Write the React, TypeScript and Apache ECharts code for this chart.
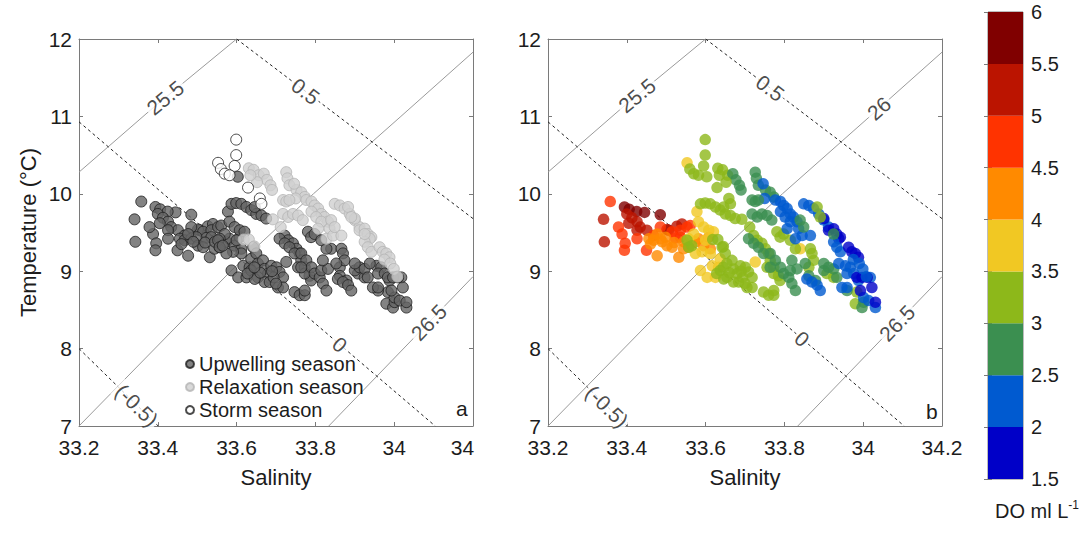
import React, { useEffect, useRef } from "react";
import * as echarts from "echarts";

// ---------- tick labels ----------
const xTickLabelsA = ["33.2", "33.4", "33.6", "33.8", "34", "34"];
const xTickLabelsB = ["33.2", "33.4", "33.6", "33.8", "34", "34.2"];
const yTickLabels = ["7", "8", "9", "10", "11", "12"];
const doTickLabels = ["1.5", "2", "2.5", "3", "3.5", "4", "4.5", "5", "5.5", "6"];
const doBandColors = ["#0000c8", "#005ad0", "#3b8f50", "#8db81a", "#f1c823", "#ff8a00", "#ff3300", "#bb1400", "#800000"];
const seasonNames = ["Upwelling season", "Relaxation season", "Storm season"];

// ---------- observations [salinity, temperature, DO] ----------
const upwellingPoints: number[][] = [
  [33.394, 9.83, 5.7], [33.406, 9.80, 5.8], [33.445, 9.76, 5.7], [33.485, 9.73, 5.6], [33.506, 9.53, 5.6], [33.425, 9.77, 5.7],
  [33.341, 9.67, 5.3], [33.343, 9.38, 5.2], [33.400, 9.74, 5.3], [33.413, 9.69, 5.2], [33.426, 9.64, 5.3], [33.405, 9.62, 5.2],
  [33.434, 9.57, 5.1], [33.451, 9.53, 5.2], [33.527, 9.58, 5.1], [33.540, 9.61, 5.2], [33.502, 9.54, 5.3], [33.426, 9.53, 5.2],
  [33.358, 9.90, 4.8], [33.388, 9.48, 4.9], [33.396, 9.36, 4.7], [33.394, 9.27, 4.8], [33.426, 9.42, 4.7], [33.450, 9.27, 4.8],
  [33.468, 9.46, 4.7], [33.485, 9.57, 4.8], [33.515, 9.51, 4.9], [33.536, 9.53, 4.7], [33.553, 9.57, 4.8], [33.561, 9.59, 4.7],
  [33.523, 9.43, 4.6], [33.536, 9.44, 4.7], [33.379, 9.57, 4.8],
  [33.456, 9.42, 4.3], [33.468, 9.40, 4.2], [33.485, 9.42, 4.3], [33.498, 9.44, 4.4], [33.502, 9.33, 4.2], [33.515, 9.31, 4.3],
  [33.532, 9.18, 4.2], [33.544, 9.29, 4.3], [33.557, 9.31, 4.1], [33.574, 9.38, 4.2], [33.582, 9.42, 4.3], [33.595, 9.33, 4.1],
  [33.612, 9.29, 4.2], [33.608, 9.44, 4.3], [33.477, 9.48, 4.4], [33.477, 9.20, 4.2], [33.490, 9.38, 4.3], [33.520, 9.37, 4.3],
  [33.545, 9.38, 4.2], [33.460, 9.35, 4.4],
  [33.578, 9.77, 3.8], [33.582, 9.64, 3.7], [33.595, 9.57, 3.8], [33.608, 9.53, 3.9], [33.620, 9.51, 3.7], [33.612, 9.23, 3.8],
  [33.591, 9.25, 3.7], [33.574, 9.23, 3.8], [33.587, 9.01, 3.6], [33.604, 8.92, 3.7], [33.625, 8.92, 3.6], [33.617, 9.07, 3.7],
  [33.633, 9.05, 3.6], [33.637, 9.16, 3.7], [33.726, 9.12, 3.6], [33.840, 9.29, 3.6], [33.570, 9.48, 3.8], [33.557, 9.42, 3.9],
  [33.600, 9.40, 3.8],
  [33.603, 10.22, 3.3], [33.587, 9.87, 3.3], [33.599, 9.88, 3.2], [33.612, 9.87, 3.3], [33.625, 9.83, 3.2], [33.637, 9.79, 3.3],
  [33.650, 9.74, 3.2], [33.663, 9.72, 3.1], [33.675, 9.68, 3.2], [33.646, 9.83, 3.3],
  [33.553, 9.40, 3.3], [33.642, 9.31, 3.2], [33.650, 9.23, 3.3], [33.654, 9.10, 3.2], [33.667, 9.14, 3.1], [33.671, 9.03, 3.2],
  [33.680, 8.97, 3.3], [33.688, 9.07, 3.2], [33.701, 9.05, 3.1], [33.709, 8.99, 3.2], [33.718, 8.92, 3.3], [33.654, 8.92, 3.2],
  [33.671, 8.86, 3.1], [33.684, 8.86, 3.2], [33.705, 8.79, 3.3], [33.718, 8.79, 3.2], [33.747, 8.73, 3.1], [33.760, 8.69, 3.2],
  [33.773, 8.69, 3.3], [33.773, 8.75, 3.2], [33.637, 9.01, 3.3], [33.646, 8.90, 3.2], [33.557, 9.31, 3.3], [33.565, 9.33, 3.2],
  [33.628, 8.97, 3.3], [33.660, 8.98, 3.2], [33.694, 8.92, 3.1], [33.700, 8.84, 3.2], [33.690, 9.00, 3.3], [33.645, 9.05, 3.2],
  [33.722, 9.46, 3.2], [33.731, 9.40, 3.1], [33.743, 9.36, 3.2], [33.752, 9.29, 3.3], [33.760, 9.23, 3.2], [33.764, 9.14, 3.1],
  [33.756, 9.05, 3.2], [33.773, 9.05, 3.3], [33.785, 8.94, 3.2], [33.789, 8.88, 3.1], [33.773, 8.97, 3.2], [33.781, 9.51, 3.3],
  [33.789, 9.44, 3.2], [33.798, 9.48, 3.1], [33.815, 9.40, 3.2], [33.828, 9.29, 3.3],
  [33.866, 9.29, 3.2], [33.870, 9.23, 3.1], [33.862, 9.05, 3.2], [33.874, 9.14, 3.3], [33.908, 8.97, 3.2], [33.925, 8.92, 3.1],
  [33.980, 8.58, 3.2], [33.984, 8.73, 3.3],
  [33.709, 9.42, 2.8], [33.722, 9.36, 2.7], [33.734, 9.31, 2.8], [33.747, 9.23, 2.7], [33.764, 9.23, 2.8], [33.777, 9.14, 2.7],
  [33.790, 9.05, 2.8], [33.798, 8.97, 2.7], [33.811, 8.92, 2.8], [33.819, 8.84, 2.7], [33.828, 8.75, 2.8], [33.815, 9.01, 2.7],
  [33.832, 9.03, 2.8], [33.764, 9.05, 2.7], [33.819, 9.14, 2.8], [33.853, 9.10, 2.7], [33.862, 8.94, 2.8], [33.879, 8.88, 2.7],
  [33.900, 9.01, 2.8], [33.912, 9.05, 2.7], [33.925, 9.03, 2.8], [33.933, 8.92, 2.7], [33.900, 9.10, 2.8], [33.959, 8.75, 2.7],
  [33.997, 8.53, 2.8], [34.001, 8.60, 2.7],
  [33.955, 9.07, 2.3], [33.967, 9.05, 2.2], [33.959, 8.97, 2.3], [33.976, 8.97, 2.2], [33.988, 8.88, 2.3], [33.938, 9.10, 2.2],
  [33.857, 8.90, 2.3], [33.870, 8.86, 2.2], [33.883, 8.82, 2.3], [33.891, 8.75, 2.2], [33.946, 8.79, 2.3], [33.959, 8.79, 2.2],
  [34.001, 8.66, 2.3], [34.014, 8.62, 2.2], [34.018, 8.92, 2.3], [34.031, 8.53, 2.2],
  [33.984, 8.92, 1.8], [33.997, 8.92, 1.7], [34.010, 8.92, 1.8], [33.993, 8.75, 1.9], [34.022, 8.79, 1.8], [34.031, 8.60, 1.7],
];

const relaxationPoints: number[][] = [
  [33.631, 10.33, 3.3], [33.643, 10.31, 3.2], [33.656, 10.24, 3.2], [33.669, 10.26, 2.8], [33.677, 10.18, 2.8], [33.686, 10.11, 2.7],
  [33.690, 10.05, 2.8], [33.652, 10.15, 3.2], [33.635, 10.24, 3.3],
  [33.692, 9.67, 3.2], [33.712, 9.57, 3.1],
  [33.618, 9.41, 3.3], [33.631, 9.41, 3.2], [33.645, 9.32, 3.3],
  [33.726, 10.28, 2.8], [33.729, 10.20, 2.7], [33.734, 10.11, 2.8], [33.752, 10.05, 2.7], [33.764, 10.02, 2.8], [33.773, 9.96, 2.7],
  [33.746, 10.13, 2.3], [33.750, 9.94, 2.2], [33.718, 9.92, 2.8], [33.726, 9.90, 2.7], [33.734, 9.92, 2.8], [33.777, 9.92, 2.2],
  [33.790, 9.90, 2.3], [33.798, 9.85, 2.2], [33.807, 9.81, 2.3], [33.815, 9.74, 2.2], [33.823, 9.70, 2.3], [33.832, 9.64, 2.2],
  [33.836, 9.55, 2.3], [33.828, 9.42, 2.2], [33.845, 9.46, 2.3], [33.866, 9.46, 2.2], [33.790, 9.77, 2.3], [33.802, 9.70, 2.2],
  [33.815, 9.64, 2.3], [33.807, 9.55, 2.2], [33.718, 9.74, 2.8], [33.731, 9.70, 2.7], [33.743, 9.74, 2.8], [33.756, 9.72, 2.7],
  [33.768, 9.66, 2.8], [33.840, 9.66, 2.7], [33.849, 9.57, 2.8],
  [33.849, 9.87, 2.2], [33.862, 9.85, 2.3], [33.874, 9.81, 2.2], [33.887, 9.74, 2.3], [33.900, 9.66, 2.2], [33.912, 9.57, 2.3],
  [33.900, 9.68, 1.8], [33.912, 9.53, 1.8], [33.925, 9.55, 1.7], [33.933, 9.48, 1.8], [33.942, 9.44, 1.7], [33.938, 9.42, 1.9],
  [33.925, 9.38, 2.3], [33.933, 9.31, 2.2], [33.942, 9.25, 2.3], [33.963, 9.31, 1.8], [33.971, 9.25, 1.7], [33.980, 9.23, 1.8],
  [33.988, 9.18, 1.9], [33.883, 9.83, 3.2], [33.891, 9.70, 3.1], [33.925, 9.48, 2.8],
  [33.975, 9.15, 2.2], [33.990, 9.10, 2.3], [33.999, 9.03, 2.2], [34.008, 8.93, 2.3],
];

const stormPoints: number[][] = [
  [33.599, 10.70, 3.3], [33.599, 10.50, 3.3], [33.595, 10.36, 3.2], [33.553, 10.40, 3.7], [33.560, 10.32, 3.2],
  [33.570, 10.26, 3.2], [33.582, 10.24, 3.3], [33.629, 10.08, 3.2], [33.659, 9.94, 3.3], [33.663, 9.87, 3.2],
];

// ---------- isopycnals (solid) and spiciness (dashed) lines [S, T] ----------
const sigma255 = [[33.2, 10.28], [33.39, 11.12], [33.6, 12.0]];
const sigma26 = [[33.2, 7.0], [33.585, 9.0], [33.795, 10.0], [34.017, 11.0], [34.2, 11.83]];
const sigma265 = [[33.834, 7.0], [34.2, 8.93]];
const spiceM05 = [[33.2, 8.0], [33.401, 7.0]];
const spice0 = [[33.2, 10.93], [34.104, 7.0]];
const spice05 = [[33.6, 12.0], [34.2, 9.68]];

const contourLines = [
  { pts: sigma255, dashed: false },
  { pts: sigma26, dashed: false },
  { pts: sigma265, dashed: false },
  { pts: spiceM05, dashed: true },
  { pts: spice0, dashed: true },
  { pts: spice05, dashed: true },
];

// label text, line, salinity position
const contourLabelsA = [
  { text: "25.5", pts: sigma255, s: 33.419 },
  { text: "0.5", pts: spice05, s: 33.775 },
  { text: "26.5", pts: sigma265, s: 34.088 },
  { text: "0", pts: spice0, s: 33.862 },
  { text: "(-0.5)", pts: spiceM05, s: 33.347 },
];
const contourLabelsB = [
  { text: "25.5", pts: sigma255, s: 33.426 },
  { text: "0.5", pts: spice05, s: 33.764 },
  { text: "26", pts: sigma26, s: 34.04 },
  { text: "26.5", pts: sigma265, s: 34.086 },
  { text: "0", pts: spice0, s: 33.845 },
  { text: "(-0.5)", pts: spiceM05, s: 33.35 },
];

const FONT = "'Liberation Sans', Arial, Helvetica, sans-serif";
const TEXT = "#1c1c1c";
const AXIS = "#7a7a7a";

const GA = { left: 79, top: 39, width: 394, height: 387 };
const GB = { left: 548, top: 39, width: 394, height: 387 };
const GC = { left: 988, top: 12, width: 35, height: 467 };

function onLine(pts: number[][], s: number, g: { width: number; height: number }) {
  for (let i = 0; i < pts.length - 1; i++) {
    const [x0, y0] = pts[i];
    const [x1, y1] = pts[i + 1];
    if (s >= x0 && s <= x1) {
      const slope = (y1 - y0) / (x1 - x0);
      const t = y0 + slope * (s - x0);
      const pxS = g.width / 1.0;
      const pxT = g.height / 5.0;
      const angle = (Math.atan((slope * pxT) / pxS) * 180) / Math.PI;
      return { t, angle };
    }
  }
  return { t: pts[0][1], angle: 0 };
}

function axesFor(gridIndex: number, xLabels: string[], withName: boolean, lastShift: boolean) {
  const tickStyle = { show: true, inside: true, length: 4, lineStyle: { color: AXIS, width: 1 } };
  const lineStyle = { show: true, onZero: false, lineStyle: { color: AXIS, width: 1 } };
  const xBottom: any = {
    type: "value", gridIndex, min: 33.2, max: 34.2, interval: 0.2, position: "bottom",
    axisLine: lineStyle, axisTick: tickStyle, splitLine: { show: false },
    axisLabel: {
      fontSize: 21, color: TEXT, fontFamily: FONT, margin: 11, showMinLabel: true, showMaxLabel: true,
      formatter: (v: number) => {
        const i = Math.round((v - 33.2) / 0.2);
        if (lastShift && i === xLabels.length - 1) return "{s|" + xLabels[i] + "}";
        return xLabels[i] ?? "";
      },
      rich: { s: { fontSize: 21, color: TEXT, fontFamily: FONT, padding: [0, 21, 0, 0] } },
    },
    name: "Salinity", nameLocation: "middle", nameGap: 40,
    nameTextStyle: { fontSize: 22, color: TEXT, fontFamily: FONT },
  };
  const xTop: any = {
    type: "value", gridIndex, min: 33.2, max: 34.2, interval: 0.2, position: "top",
    axisLine: lineStyle, axisTick: tickStyle, axisLabel: { show: false }, splitLine: { show: false },
  };
  const yLeft: any = {
    type: "value", gridIndex, min: 7, max: 12, interval: 1, position: "left",
    axisLine: lineStyle, axisTick: tickStyle, splitLine: { show: false },
    axisLabel: {
      fontSize: 21, color: TEXT, fontFamily: FONT, margin: 7, showMinLabel: true, showMaxLabel: true,
      formatter: (v: number) => yTickLabels[Math.round(v - 7)] ?? "",
    },
  };
  if (withName) {
    yLeft.name = "Temperature (°C)";
    yLeft.nameLocation = "middle";
    yLeft.nameGap = 40;
    yLeft.nameTextStyle = { fontSize: 22, color: TEXT, fontFamily: FONT };
  }
  const yRight: any = {
    type: "value", gridIndex, min: 7, max: 12, interval: 1, position: "right",
    axisLine: lineStyle, axisTick: tickStyle, axisLabel: { show: false }, splitLine: { show: false },
  };
  return { x: [xBottom, xTop], y: [yLeft, yRight] };
}

function contourSeries(xi: number, yi: number) {
  return contourLines.map((c) => ({
    type: "line", xAxisIndex: xi, yAxisIndex: yi, data: c.pts, showSymbol: false, silent: true, z: 1,
    lineStyle: c.dashed ? { color: "#222", width: 1, type: [3, 3] } : { color: "#9a9a9a", width: 1, type: "solid" },
  }));
}

function labelSeries(xi: number, yi: number, labels: any[], g: any) {
  return {
    type: "scatter", xAxisIndex: xi, yAxisIndex: yi, symbolSize: 1, silent: true, z: 2,
    itemStyle: { color: "rgba(0,0,0,0)" },
    label: { show: true, position: "inside", fontSize: 21, color: TEXT, fontFamily: FONT, backgroundColor: "#fff", padding: [0, 2] },
    data: labels.map((l) => {
      const p = onLine(l.pts, l.s, g);
      return { value: [l.s, p.t], label: { formatter: l.text, rotate: p.angle } };
    }),
  };
}

export default function App() {
  const ref = useRef<HTMLDivElement>(null);
  useEffect(() => {
    if (!ref.current) return;
    const chart = echarts.init(ref.current, undefined, { renderer: "svg" });
    const a = axesFor(0, xTickLabelsA, true, true);
    const b = axesFor(1, xTickLabelsB, false, false);
    const doBreaks = doTickLabels.map((t) => parseFloat(t));
    const colorbarData = doBandColors.map((c, i) => [doBreaks[i], doBreaks[i + 1], i]);

    const option: any = {
      animation: false,
      backgroundColor: "#fff",
      grid: [
        { ...GA, containLabel: false },
        { ...GB, containLabel: false },
        { ...GC, containLabel: false, show: true, borderColor: AXIS, borderWidth: 1 },
      ],
      xAxis: [
        ...a.x, ...b.x,
        { type: "value", gridIndex: 2, min: 0, max: 1, show: false },
      ],
      yAxis: [
        ...a.y, ...b.y,
        {
          type: "value", gridIndex: 2, min: 1.5, max: 6, interval: 0.5, position: "right",
          axisLine: { show: false }, splitLine: { show: false },
          axisTick: { show: true, inside: true, length: 4, lineStyle: { color: AXIS } },
          axisLabel: {
            fontSize: 20, color: TEXT, fontFamily: FONT, margin: 8, showMinLabel: true, showMaxLabel: true,
            formatter: (v: number) => doTickLabels[Math.round((v - 1.5) / 0.5)] ?? "",
          },
        },
        {
          type: "value", gridIndex: 2, min: 1.5, max: 6, interval: 0.5, position: "left",
          axisLine: { show: false }, splitLine: { show: false }, axisLabel: { show: false },
          axisTick: { show: true, inside: true, length: 4, lineStyle: { color: AXIS } },
        },
      ],
      legend: {
        data: seasonNames,
        orient: "vertical", left: 180, top: 349, itemWidth: 8, itemHeight: 8, itemGap: 3,
        icon: "circle",
        textStyle: { fontSize: 20, color: TEXT, fontFamily: FONT },
      },
      visualMap: {
        type: "piecewise", show: false, seriesIndex: 17, dimension: 2,
        pieces: doBandColors.map((c, i) => ({ gte: doBreaks[i], lt: i === 8 ? 6.01 : doBreaks[i + 1], color: c })),
      },
      title: [
        { text: "a", left: 451, top: 393, textStyle: { fontSize: 21, fontWeight: "normal", color: TEXT, fontFamily: FONT } },
        { text: "b", left: 921, top: 396, textStyle: { fontSize: 21, fontWeight: "normal", color: TEXT, fontFamily: FONT } },
        {
          text: "{n|DO ml L}{s|-1}", left: 990, top: 494,
          textStyle: {
            fontWeight: "normal",
            rich: {
              n: { fontSize: 20, fontWeight: "normal", color: TEXT, fontFamily: FONT, lineHeight: 24 },
              s: { fontSize: 12, fontWeight: "normal", color: TEXT, fontFamily: FONT, lineHeight: 14, verticalAlign: "top" },
            },
          },
        },
      ],
      series: [
        // panel a: indices 0-5 contours, 6 labels, 7-9 scatter
        ...contourSeries(0, 0),
        labelSeries(0, 0, contourLabelsA, GA),
        {
          name: seasonNames[0], type: "scatter", xAxisIndex: 0, yAxisIndex: 0, symbolSize: 11, z: 3,
          itemStyle: { color: "#646464", borderColor: "#1e1e1e", borderWidth: 1 },
          data: upwellingPoints.map((p) => [p[0], p[1]]),
        },
        {
          name: seasonNames[1], type: "scatter", xAxisIndex: 0, yAxisIndex: 0, symbolSize: 11, z: 3,
          itemStyle: { color: "#cfcfcf", borderColor: "#b4b4b4", borderWidth: 1 },
          data: relaxationPoints.map((p) => [p[0], p[1]]),
        },
        {
          name: seasonNames[2], type: "scatter", xAxisIndex: 0, yAxisIndex: 0, symbolSize: 11, z: 3,
          itemStyle: { color: "#ffffff", borderColor: "#1e1e1e", borderWidth: 1 },
          data: stormPoints.map((p) => [p[0], p[1]]),
        },
        // panel b: indices 10-15 contours, 16 labels, 17 scatter
        ...contourSeries(2, 2),
        labelSeries(2, 2, contourLabelsB, GB),
        {
          name: "DO", type: "scatter", xAxisIndex: 2, yAxisIndex: 2, symbolSize: 11.5, z: 3,
          itemStyle: { borderWidth: 0 },
          data: [...upwellingPoints, ...relaxationPoints, ...stormPoints],
        },
        // colorbar
        {
          type: "custom", xAxisIndex: 4, yAxisIndex: 4, silent: true, z: 1,
          data: colorbarData,
          renderItem: (params: any, api: any) => {
            const p0 = api.coord([0, api.value(0)]);
            const p1 = api.coord([1, api.value(1)]);
            return {
              type: "rect",
              shape: { x: p0[0], y: p1[1], width: p1[0] - p0[0], height: p0[1] - p1[1] },
              style: { fill: doBandColors[api.value(2)] },
            };
          },
        },
      ],
    };
    chart.setOption(option);
    return () => chart.dispose();
  }, []);
  return (
    <div
      ref={ref}
      style={{ position: "fixed", left: 0, top: 0, width: 1087, height: 535, background: "#fff" }}
    />
  );
}
